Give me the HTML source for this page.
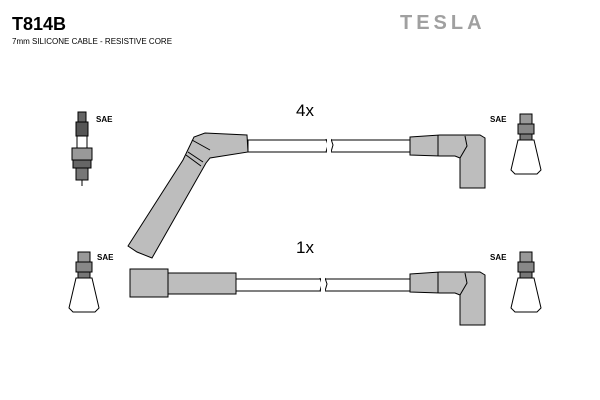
<!DOCTYPE html><html><head><style>body{margin:0;background:#fff}svg{display:block}</style></head><body>
<svg width="600" height="400" viewBox="0 0 600 400" xmlns="http://www.w3.org/2000/svg" font-family="Liberation Sans, sans-serif">
<rect width="600" height="400" fill="#fff"/>
<text x="12" y="30" font-size="18" font-weight="bold">T814B</text>
<text x="12" y="44" font-size="8">7mm SILICONE CABLE - RESISTIVE CORE</text>
<text x="400" y="29" font-size="20" font-weight="bold" fill="#a0a0a0" letter-spacing="4">TESLA</text>
<text x="296" y="116" font-size="17">4x</text>
<text x="296" y="253" font-size="17">1x</text>
<g font-size="8" font-weight="bold">
<text x="96" y="122">SAE</text><text x="490" y="122">SAE</text>
<text x="97" y="260">SAE</text><text x="490" y="260">SAE</text></g>
<g stroke="#000" stroke-width="1" fill="#bdbdbd">
<rect x="248" y="140" width="162" height="12" fill="#fff"/>
<path d="M326 139 l2 6 -2 7 M331 139 l2 6 -2 7" fill="none"/>
<rect x="327" y="139" width="4" height="14" fill="#fff" stroke="none"/>
<path d="M128 246 L183 160 L194 137 L205 133 L247 135 L248 152 L210 158 L206 163 L152 258 L137 252 Z"/>
<path d="M192 140 L210 150 M188 152 L203 162 M186 155 L201 166" fill="none"/>
<path d="M410 137 L440 135 L480 135 L485 138 L485 188 L460 188 L460 158 L455 156 L440 156 L410 155 Z"/>
<path d="M438 135 V156 M460 158 L467 146 L465 136" fill="none"/>
<rect x="235" y="279" width="175" height="12" fill="#fff"/>
<path d="M320 278 l2 6 -2 7 M325 278 l2 6 -2 7" fill="none"/>
<rect x="321" y="278" width="4" height="14" fill="#fff" stroke="none"/>
<rect x="130" y="269" width="38" height="28"/>
<rect x="168" y="273" width="68" height="21"/>
<path d="M410 274 L440 272 L480 272 L485 275 L485 325 L460 325 L460 295 L455 293 L440 293 L410 292 Z"/>
<path d="M438 272 V293 M460 295 L467 283 L465 273" fill="none"/>
<g id="c">
<rect x="520" y="114" width="12" height="10" fill="#999"/>
<rect x="518" y="124" width="16" height="10" fill="#888"/>
<rect x="520" y="134" width="12" height="6" fill="#777"/>
<path d="M518 140 L534 140 L541 170 L537 174 L515 174 L511 170 Z" fill="#fff"/>
</g>
<use href="#c" y="138"/>
<use href="#c" x="-442" y="138"/>
<rect x="78" y="112" width="8" height="10" fill="#666"/>
<rect x="76" y="122" width="12" height="14" fill="#555"/>
<rect x="77" y="136" width="10" height="12" fill="#fff"/>
<rect x="72" y="148" width="20" height="12" fill="#999"/>
<rect x="73" y="160" width="18" height="8" fill="#666"/>
<rect x="76" y="168" width="12" height="12" fill="#777"/>
<line x1="82" y1="180" x2="82" y2="186"/>
</g>
</svg></body></html>
